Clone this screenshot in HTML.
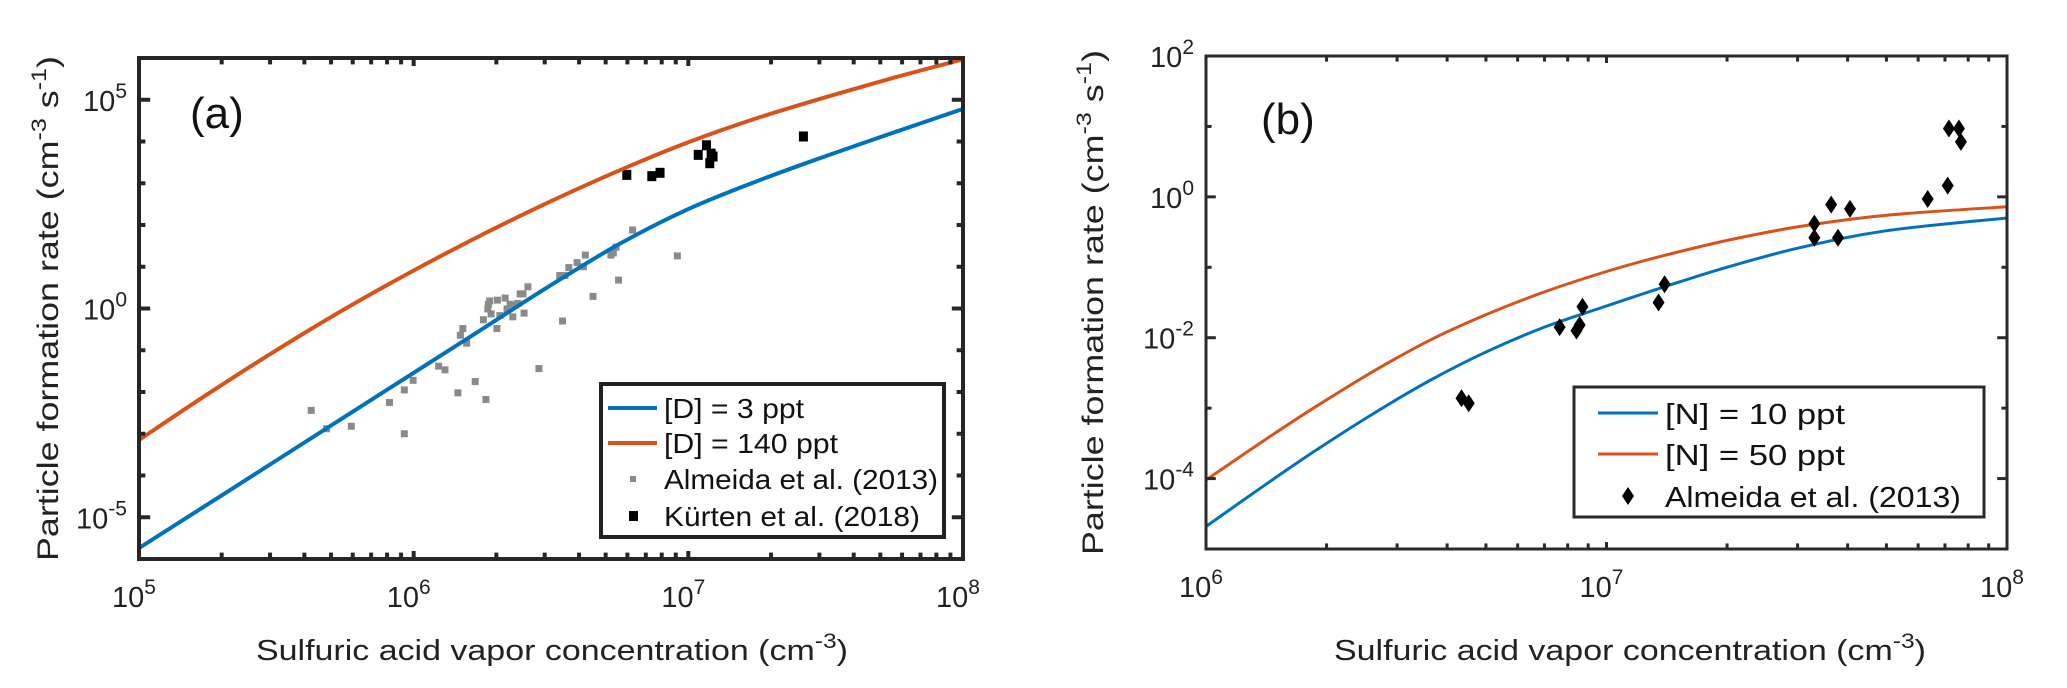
<!DOCTYPE html>
<html><head><meta charset="utf-8"><style>
html,body{margin:0;padding:0;background:#fff;}
svg{display:block;font-family:"Liberation Sans",Arial,sans-serif;}
</style></head><body>
<svg id="fig" width="2067" height="688" viewBox="0 0 2067 688" xmlns="http://www.w3.org/2000/svg"></svg>
<script>
// ---- Panel (a) data (log10 values) ----
const aBlueLogX = [5, 5.5, 6, 6.25, 6.5, 6.75, 7, 7.25, 7.5, 7.75, 8];
const aBlueLogY = [-5.74, -3.64, -1.54, -0.49, 0.56, 1.55, 2.38, 3.05, 3.65, 4.22, 4.78];
const aOrangeLogX = [5, 5.25, 5.5, 5.75, 6, 6.25, 6.5, 6.75, 7, 7.25, 7.5, 7.75, 8];
const aOrangeLogY = [-3.15, -2.05, -1.0, -0.01, 0.91, 1.77, 2.57, 3.31, 3.98, 4.56, 5.06, 5.53, 5.97];
const almeidaALogX = [5.627,5.683,5.773,5.912,5.966,5.966,5.998,6.091,6.114,6.161,6.170,6.179,6.193,6.224,6.254,6.263,6.270,6.272,6.277,6.282,6.303,6.305,6.314,6.333,6.340,6.351,6.361,6.370,6.379,6.388,6.398,6.402,6.416,6.456,6.532,6.542,6.551,6.565,6.595,6.618,6.625,6.653,6.718,6.727,6.737,6.746,6.797,6.960];
const almeidaALogY = [-2.44,-2.88,-2.82,-2.25,-1.95,-3.00,-1.72,-1.38,-1.47,-2.02,-0.64,-0.48,-0.83,-1.75,-0.27,-2.18,-0.01,0.10,0.18,-0.13,-0.48,0.20,-0.17,0.25,-0.01,0.10,-0.20,0.08,0.12,0.35,0.35,-0.11,0.52,-1.44,0.79,-0.30,0.79,0.98,1.10,1.00,1.28,0.29,1.28,1.33,1.47,0.68,1.88,1.26];
const kurtenLogX = [6.776, 6.867, 6.897, 7.036, 7.066, 7.078, 7.083, 7.090, 7.419];
const kurtenLogY = [3.20, 3.17, 3.25, 3.68, 3.91, 3.48, 3.71, 3.64, 4.12];
const aXTicks = [5, 6, 7, 8];
const aYTicks = [-5, 0, 5];
// ---- Panel (b) data ----
const bBlueLogX = [6, 6.15, 6.274, 6.42, 6.561, 6.7, 6.845, 7.0, 7.132, 7.3, 7.484, 7.7, 8];
const bBlueLogY = [-4.68, -4.08, -3.6, -3.07, -2.6, -2.2, -1.85, -1.55, -1.3, -1.0, -0.72, -0.48, -0.30];
const bOrangeLogX = [6, 6.15, 6.274, 6.42, 6.561, 6.7, 6.845, 7.0, 7.132, 7.3, 7.484, 7.7, 8];
const bOrangeLogY = [-4.02, -3.44, -2.98, -2.47, -2.03, -1.67, -1.35, -1.06, -0.85, -0.62, -0.42, -0.26, -0.14];
const almeidaBLogX = [6.638,6.656,6.883,6.925,6.933,6.940,7.130,7.145,7.519,7.519,7.561,7.578,7.608,7.802,7.852,7.855,7.880,7.885];
const almeidaBLogY = [-2.86,-2.93,-1.85,-1.90,-1.82,-1.56,-1.50,-1.24,-0.38,-0.58,-0.11,-0.58,-0.17,-0.03,0.16,0.97,0.97,0.78];
const bXTicks = [6, 7, 8];
const bYTicks = [-4, -2, 0, 2];

const NS = "http://www.w3.org/2000/svg";
const svg = document.getElementById("fig");
function mk(tag, attrs, parent) {
  const e = document.createElementNS(NS, tag);
  for (const k in attrs) e.setAttribute(k, attrs[k]);
  (parent || svg).appendChild(e);
  return e;
}
const BLUE = "#0072BD", ORANGE = "#D95319";

const A = {x0:139, x1:963, y0:58, y1:559, lx0:5, lx1:8, ly0:-6, ly1:6};
const B = {x0:1206, x1:2007, y0:56, y1:549, lx0:6, lx1:8, ly0:-5, ly1:2};
function sx(p, v) { return p.x0 + (v - p.lx0) / (p.lx1 - p.lx0) * (p.x1 - p.x0); }
function sy(p, v) { return p.y1 - (v - p.ly0) / (p.ly1 - p.ly0) * (p.y1 - p.y0); }

function drawAxes(p, g, sw, col, xt, yt, tickLen) {
  for (let d = p.lx0; d <= p.lx1; d++) {
    for (let m = 1; m <= 9; m++) {
      const lv = d + Math.log10(m);
      if (lv > p.lx1 + 1e-9) break;
      const x = sx(p, lv);
      const L = m === 1 ? tickLen : tickLen * 0.8;
      const t1 = mk("line", {x1:x, y1:p.y1, x2:x, y2:p.y1 - L, stroke:col, "stroke-width":sw}, g);
      
      
      const t2 = mk("line", {x1:x, y1:p.y0, x2:x, y2:p.y0 + L, stroke:col, "stroke-width":sw}, g);
      
      
    }
  }
  for (let v = p.ly0; v <= p.ly1; v += 1) {
    const y = sy(p, v);
    const L = yt.includes(v) ? tickLen * 1.4 : tickLen * 0.8;
    const t1 = mk("line", {x1:p.x0, y1:y, x2:p.x0 + L, y2:y, stroke:col, "stroke-width":sw}, g);
    
    
    const t2 = mk("line", {x1:p.x1, y1:y, x2:p.x1 - L, y2:y, stroke:col, "stroke-width":sw}, g);
    
    
  }
  const fr = mk("rect", {x:p.x0, y:p.y0, width:p.x1 - p.x0, height:p.y1 - p.y0, fill:"none", stroke:col, "stroke-width":sw}, g);
  
  
  xt.forEach(v => {
    const t = mk("text", {x:sx(p, v) - 5, y:p.y1 + 48, "text-anchor":"middle", "font-size":"29", fill:"#222"}, g);
    
    
    t.textContent = "10";
    const s = mk("tspan", {dy:"-13", "font-size":"21"}, t);
    s.textContent = String(v);
  });
  yt.forEach(v => {
    const t = mk("text", {x:p.x0 - 12, y:sy(p, v) + 11, "text-anchor":"end", "font-size":"29", fill:"#222"}, g);
    
    
    t.textContent = "10";
    const s = mk("tspan", {dy:"-13", "font-size":"21"}, t);
    s.textContent = String(v);
  });
}
function smoothPath(p, xs, ys) {
  const P = xs.map((v, i) => [sx(p, v), sy(p, ys[i])]);
  let d = "M" + P[0][0].toFixed(1) + "," + P[0][1].toFixed(1);
  for (let i = 0; i < P.length - 1; i++) {
    const p0 = P[Math.max(i - 1, 0)], p1 = P[i], p2 = P[i + 1], p3 = P[Math.min(i + 2, P.length - 1)];
    const c1 = [p1[0] + (p2[0] - p0[0]) / 6, p1[1] + (p2[1] - p0[1]) / 6];
    const c2 = [p2[0] - (p3[0] - p1[0]) / 6, p2[1] - (p3[1] - p1[1]) / 6];
    d += ` C${c1[0].toFixed(1)},${c1[1].toFixed(1)} ${c2[0].toFixed(1)},${c2[1].toFixed(1)} ${p2[0].toFixed(1)},${p2[1].toFixed(1)}`;
  }
  return d;
}
function titles(g, p, yx, xlabelX) {
  const yt = mk("text", {transform:`translate(${yx},${(p.y0 + p.y1) / 2}) rotate(-90)`, "text-anchor":"middle", "font-size":"30", fill:"#222", textLength:"505", lengthAdjust:"spacingAndGlyphs"}, g);
  
  
  yt.innerHTML = 'Particle formation rate (cm<tspan dy="-12" font-size="21">-3</tspan><tspan dy="12"> s</tspan><tspan dy="-12" font-size="21">-1</tspan><tspan dy="12">)</tspan>';
  const xt = mk("text", {x:xlabelX, y:660, "text-anchor":"middle", "font-size":"29", fill:"#222", textLength:"592", lengthAdjust:"spacingAndGlyphs"}, g);
  
  
  xt.innerHTML = 'Sulfuric acid vapor concentration (cm<tspan dy="-12" font-size="21">-3</tspan><tspan dy="12">)</tspan>';
}

// ---------- Panel (a) ----------
const ga = mk("g", {});


const clipA = mk("clipPath", {id:"clipA"});
mk("rect", {x:A.x0, y:A.y0, width:A.x1 - A.x0, height:A.y1 - A.y0}, clipA);
almeidaALogX.forEach((v, i) => {
  const r = mk("rect", {x:sx(A, v) - 3.5, y:sy(A, almeidaALogY[i]) - 3.5, width:7, height:7, fill:"#8a8a8a"}, ga);
  
  
});
kurtenLogX.forEach((v, i) => {
  const r = mk("rect", {x:sx(A, v) - 4.5, y:sy(A, kurtenLogY[i]) - 5, width:9, height:10, fill:"#000"}, ga);
  
  
});
const aBlue = mk("path", {d:smoothPath(A, aBlueLogX, aBlueLogY), fill:"none", stroke:BLUE, "stroke-width":4, "clip-path":"url(#clipA)"}, ga);


const aOr = mk("path", {d:smoothPath(A, aOrangeLogX, aOrangeLogY), fill:"none", stroke:ORANGE, "stroke-width":4, "clip-path":"url(#clipA)"}, ga);


drawAxes(A, ga, 4, "#262626", aXTicks, aYTicks, 8);
titles(ga, A, 58, 552);
const la = mk("text", {x:190, y:128, "font-size":"44", fill:"#111"}, ga);


la.textContent = "(a)";
const lgA = mk("g", {}, ga);


const lgAbox = mk("rect", {x:601, y:384, width:343, height:153, fill:"#fff", stroke:"#222", "stroke-width":4}, lgA);


[["[D] = 3 ppt", "line", BLUE, 408, 140], ["[D] = 140 ppt", "line", ORANGE, 443, 174], ["Almeida et al. (2013)", "gray", "#8a8a8a", 479, 274], ["Kürten et al. (2018)", "black", "#000", 516, 256]].forEach(e => {
  if (e[1] === "line") {
    const l = mk("line", {x1:608, y1:e[3], x2:657, y2:e[3], stroke:e[2], "stroke-width":4}, lgA);
    
    
  } else if (e[1] === "gray") {
    const r = mk("rect", {x:630, y:e[3] - 3, width:6, height:6, fill:e[2]}, lgA);
    
    
  } else {
    const r = mk("rect", {x:629, y:e[3] - 5, width:9, height:10, fill:e[2]}, lgA);
    
    
  }
  const t = mk("text", {x:664, y:e[3] + 10, "font-size":"28", fill:"#111", textLength:e[4], lengthAdjust:"spacingAndGlyphs"}, lgA);
  
  
  t.textContent = e[0];
});

// ---------- Panel (b) ----------
const gb = mk("g", {});


const clipB = mk("clipPath", {id:"clipB"});
mk("rect", {x:B.x0, y:B.y0, width:B.x1 - B.x0, height:B.y1 - B.y0}, clipB);
const bBlue = mk("path", {d:smoothPath(B, bBlueLogX, bBlueLogY), fill:"none", stroke:BLUE, "stroke-width":3, "clip-path":"url(#clipB)"}, gb);


const bOr = mk("path", {d:smoothPath(B, bOrangeLogX, bOrangeLogY), fill:"none", stroke:ORANGE, "stroke-width":3, "clip-path":"url(#clipB)"}, gb);


almeidaBLogX.forEach((v, i) => {
  const x = sx(B, v), y = sy(B, almeidaBLogY[i]);
  const d = mk("path", {d:`M${x},${y - 9} L${x + 6},${y} L${x},${y + 9} L${x - 6},${y} Z`, fill:"#000"}, gb);
  
  
});
drawAxes(B, gb, 3, "#2a2a2a", bXTicks, bYTicks, 7);
titles(gb, B, 1103, 1630);
const lb = mk("text", {x:1261, y:134, "font-size":"44", fill:"#111"}, gb);


lb.textContent = "(b)";
const lgB = mk("g", {}, gb);


const lgBbox = mk("rect", {x:1574, y:387, width:410, height:130, fill:"#fff", stroke:"#2a2a2a", "stroke-width":3}, lgB);


[["[N] = 10 ppt", "line", BLUE, 413, 180], ["[N] = 50 ppt", "line", ORANGE, 454, 180], ["Almeida et al. (2013)", "dia", "#000", 496, 296]].forEach(e => {
  if (e[1] === "line") {
    const l = mk("line", {x1:1598, y1:e[3], x2:1658, y2:e[3], stroke:e[2], "stroke-width":3}, lgB);
    
    
  } else {
    const cx = 1628, cy = e[3];
    const d = mk("path", {d:`M${cx},${cy - 9} L${cx + 6},${cy} L${cx},${cy + 9} L${cx - 6},${cy} Z`, fill:"#000"}, lgB);
    
    
  }
  const t = mk("text", {x:1665, y:e[3] + 11, "font-size":"29", fill:"#111", textLength:e[4], lengthAdjust:"spacingAndGlyphs"}, lgB);
  
  
  t.textContent = e[0];
});
</script>
</body></html>
